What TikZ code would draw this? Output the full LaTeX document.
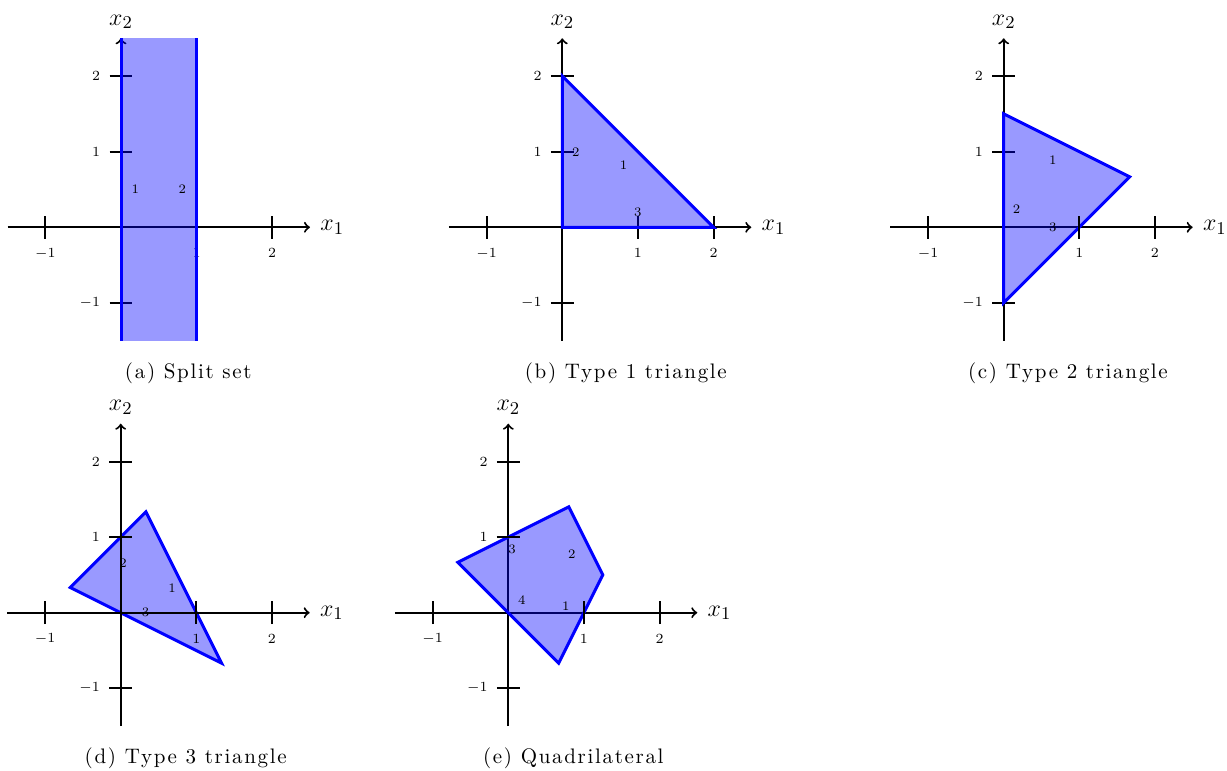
\documentclass[tikz,border=0pt]{standalone}
\usepackage{fontspec}
\newfontfamily\capfam{lmroman10-regular}[Extension=.otf,LetterSpace=8]
\newcommand{\capfont}{\capfam\fontsize{10.5}{12.5}\selectfont}
\tikzset{
  axisline/.style={line width=1pt,black},
  tickmark/.style={line width=1pt,black},
  ticklabel/.style={inner sep=0pt,font=\fontsize{7}{8}\selectfont},
  axlabel/.style={inner sep=0pt,font=\fontsize{13}{15}\selectfont},
  region/.style={fill=blue,fill opacity=0.4},
  border/.style={draw=blue,line width=1.5pt,line join=miter},
  edgelabel/.style={inner sep=0pt,font=\fontsize{6.5}{8}\selectfont},
  captiontext/.style={anchor=base,inner sep=0pt,font=\capfont},
  panel/.style={x=37.8pt,y=37.8pt}
}
\newcommand{\drawaxes}[1]{%
  \draw[axisline,->] (-1.5,0) -- (2.5,0) coordinate (#1xe);
  \draw[axisline,->] (0,-1.5) -- (0,2.5) coordinate (#1ye);
  \node[axlabel,anchor=west,xshift=5pt] (#1xl) at (#1xe) {$x_1$};
  \node[axlabel,anchor=south,yshift=4.5pt] (#1yl) at (#1ye) {$x_2$};
  \foreach \t/\s in {-1/{-1},1/1,2/2}{
    \draw[tickmark] (\t,-0.15) -- (\t,0.15);
    \draw[tickmark] (-0.15,\t) -- (0.15,\t);
    \node[ticklabel] (#1tx\t) at (\t,-0.345) {$\s$};
    \node[ticklabel,anchor=east] (#1ty\t) at (-0.27,\t) {$\s$};
  }%
}
\begin{document}
\begin{tikzpicture}
\path[use as bounding box] (0,0) rectangle (613.5pt,-385.5pt);

% (a) Split set
\begin{scope}[panel,shift={(60.5pt,-113.65pt)}]
  \drawaxes{a}
  \fill[region] (0,-1.5) rectangle (1,2.5);
  \draw[border] (0,-1.5) -- (0,2.5);
  \draw[border] (1,-1.5) -- (1,2.5);
  \node[edgelabel] (aL1) at (0.19,0.5) {1};
  \node[edgelabel] (aL2) at (0.81,0.5) {2};
  \node[captiontext] (acap) at (0.89,-2.0) {(a) Split set};
\end{scope}

% (b) Type 1 triangle
\begin{scope}[panel,shift={(281.15pt,-113.65pt)}]
  \drawaxes{b}
  \fill[region] (0,0) -- (0,2) -- (2,0) -- cycle;
  \draw[border] (0,0) -- (0,2) -- (2,0) -- cycle;
  \node[edgelabel] (bL2) at (0.18,1.0) {2};
  \node[edgelabel] (bL1) at (0.81,0.82) {1};
  \node[edgelabel] (bL3) at (1.0,0.2) {3};
  \node[captiontext] (bcap) at (0.84,-2.0) {(b) Type 1 triangle};
\end{scope}

% (c) Type 2 triangle
\begin{scope}[panel,shift={(501.85pt,-113.65pt)}]
  \drawaxes{c}
  \fill[region] (0,1.5) -- (5/3,2/3) -- (0,-1) -- cycle;
  \draw[border] (0,1.5) -- (5/3,2/3) -- (0,-1) -- cycle;
  \draw[tickmark] (1,-0.15) -- (1,0.15);
  \node[edgelabel] (cL1) at (0.65,0.89) {1};
  \node[edgelabel] (cL2) at (0.17,0.24) {2};
  \node[edgelabel] (cL3) at (0.65,0.0) {3};
  \node[captiontext] (ccap) at (0.85,-2.0) {(c) Type 2 triangle};
\end{scope}

% (d) Type 3 triangle
\begin{scope}[panel,shift={(60.35pt,-306.35pt)}]
  \fill[region] (1/3,4/3) -- (4/3,-2/3) -- (-2/3,1/3) -- cycle;
  \draw[border] (1/3,4/3) -- (4/3,-2/3) -- (-2/3,1/3) -- cycle;
  \drawaxes{d}
  \node[edgelabel] (dL2) at (0.03,0.66) {2};
  \node[edgelabel] (dL1) at (0.68,0.33) {1};
  \node[edgelabel] (dL3) at (0.33,0.0) {3};
  \node[captiontext] (dcap) at (0.86,-2.0) {(d) Type 3 triangle};
\end{scope}

% (e) Quadrilateral
\begin{scope}[panel,shift={(254.15pt,-306.35pt)}]
  \drawaxes{e}
  \fill[region] (-2/3,2/3) -- (0.8,1.4) -- (1.25,0.5) -- (2/3,-2/3) -- cycle;
  \draw[border] (-2/3,2/3) -- (0.8,1.4) -- (1.25,0.5) -- (2/3,-2/3) -- cycle;
  \draw[tickmark] (1,-0.15) -- (1,0.15);
  \draw[tickmark] (-0.15,1) -- (0.15,1);
  \node[edgelabel] (eL3) at (0.05,0.84) {3};
  \node[edgelabel] (eL2) at (0.84,0.78) {2};
  \node[edgelabel] (eL4) at (0.18,0.17) {4};
  \node[edgelabel] (eL1) at (0.76,0.09) {1};
  \node[captiontext] (ecap) at (0.86,-2.0) {(e) Quadrilateral};
\end{scope}
\end{tikzpicture}
\end{document}
